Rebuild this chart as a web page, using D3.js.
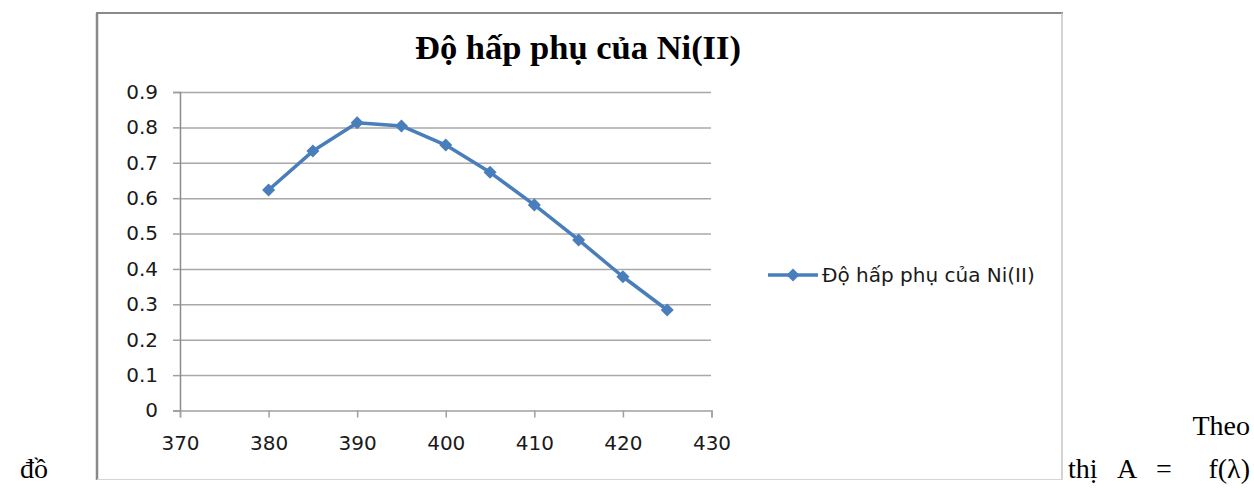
<!DOCTYPE html>
<html lang="vi">
<head>
<meta charset="UTF-8">
<title>Độ hấp phụ của Ni(II)</title>
<script src="https://d3js.org/d3.v7.min.js"></script>
<style>
  body { margin: 0; background: #fff; }
  .tick text { font-family: "DejaVu Sans", sans-serif; font-size: 20px; fill: #1a1a1a; }
</style>
</head>
<body>
<svg id="chart"></svg>
<script>
// data
var wavelengths = [380, 385, 390, 395, 400, 405, 410, 415, 420, 425];
var absorbance = [0.623, 0.733, 0.813, 0.804, 0.750, 0.673, 0.581, 0.482, 0.378, 0.284];
var xTicks = [370, 380, 390, 400, 410, 420, 430];
var yTicks = [0, 0.1, 0.2, 0.3, 0.4, 0.5, 0.6, 0.7, 0.8, 0.9];
var seriesName = "Độ hấp phụ của Ni(II)";

var W = 1254, H = 489;
var blue = "#4a7ebb";

var svg = d3.select("#chart").attr("width", W).attr("height", H);
svg.append("rect").attr("width", W).attr("height", H).attr("fill", "#fff");

// frame of the embedded chart
svg.append("line").attr("x1", 97).attr("x2", 97).attr("y1", 13).attr("y2", 480).attr("stroke", "#8a8a8a").attr("stroke-width", 2.5);
svg.append("line").attr("x1", 96).attr("x2", 1063).attr("y1", 13).attr("y2", 13).attr("stroke", "#8a8a8a").attr("stroke-width", 2);
svg.append("line").attr("x1", 1062).attr("x2", 1062).attr("y1", 13).attr("y2", 480).attr("stroke", "#c4c4c4").attr("stroke-width", 1.5);
svg.append("line").attr("x1", 97).attr("x2", 1063).attr("y1", 479.5).attr("y2", 479.5).attr("stroke", "#d4d4d4").attr("stroke-width", 1.2);

var x = d3.scaleLinear().domain([370, 430]).range([180, 711.5]);
var y = d3.scaleLinear().domain([0, 0.9]).range([410.5, 92]);

// gridlines
svg.append("g")
    .attr("transform", "translate(180,0)")
    .call(d3.axisLeft(y).tickValues(yTicks.slice(1)).tickSize(-(711 - 180)).tickFormat(""))
    .call(g => g.select(".domain").remove())
    .call(g => g.selectAll("line").attr("stroke", "#a8a8a8").attr("stroke-width", 1.5));

// y axis
svg.append("g")
    .attr("transform", "translate(180,0)")
    .call(d3.axisLeft(y).tickValues(yTicks).tickSize(7).tickPadding(15)
        .tickFormat(d => d === 0 ? "0" : d3.format(".1f")(d)))
    .call(g => g.select(".domain").attr("stroke", "#8c8c8c").attr("stroke-width", 1.5))
    .call(g => g.selectAll("line").attr("stroke", "#a0a0a0").attr("stroke-width", 1.5));

// x axis
svg.append("g")
    .attr("transform", "translate(0,410.5)")
    .call(d3.axisBottom(x).tickValues(xTicks).tickSize(7).tickPadding(18))
    .call(g => g.select(".domain").attr("stroke", "#a0a0a0").attr("stroke-width", 1.5))
    .call(g => g.selectAll("line").attr("stroke", "#a0a0a0").attr("stroke-width", 1.5));

var pts = wavelengths.map((w, i) => [w, absorbance[i]]);

svg.append("path")
    .datum(pts)
    .attr("fill", "none")
    .attr("stroke", blue)
    .attr("stroke-width", 3.5)
    .attr("stroke-linejoin", "round")
    .attr("d", d3.line().x(d => x(d[0])).y(d => y(d[1])));

var diamond = d3.symbol().type(d3.symbolSquare).size(85);
svg.selectAll(".pt")
    .data(pts)
    .enter().append("path")
    .attr("class", "pt")
    .attr("d", diamond)
    .attr("fill", blue)
    .attr("transform", d => "translate(" + x(d[0]) + "," + y(d[1]) + ") rotate(45)");

// title
svg.append("text")
    .attr("x", 578).attr("y", 59)
    .attr("text-anchor", "middle")
    .style("font-family", "'Liberation Serif', 'Times New Roman', serif")
    .style("font-weight", "bold")
    .style("font-size", "34.5px")
    .text(seriesName);

// legend
svg.append("line").attr("x1", 768).attr("x2", 818).attr("y1", 275).attr("y2", 275)
    .attr("stroke", blue).attr("stroke-width", 3.5);
svg.append("path").attr("d", diamond).attr("fill", blue)
    .attr("transform", "translate(793,275) rotate(45)");
svg.append("text")
    .attr("x", 822).attr("y", 282)
    .style("font-family", "'DejaVu Sans', sans-serif")
    .style("font-size", "20px")
    .attr("fill", "#1a1a1a")
    .text(seriesName);

// surrounding document text
var serif = "'Liberation Serif', 'Times New Roman', serif";
function docText(tx, ty, anchor, s) {
    svg.append("text").attr("x", tx).attr("y", ty).attr("text-anchor", anchor)
        .style("font-family", serif).style("font-size", "28px").text(s);
}
docText(1250, 435, "end", "Theo");
docText(20, 478, "start", "đồ");
docText(1068, 478, "start", "thị");
docText(1127, 478, "middle", "A");
docText(1164, 478, "middle", "=");
docText(1250, 478, "end", "f(λ)");
</script>
</body>
</html>
